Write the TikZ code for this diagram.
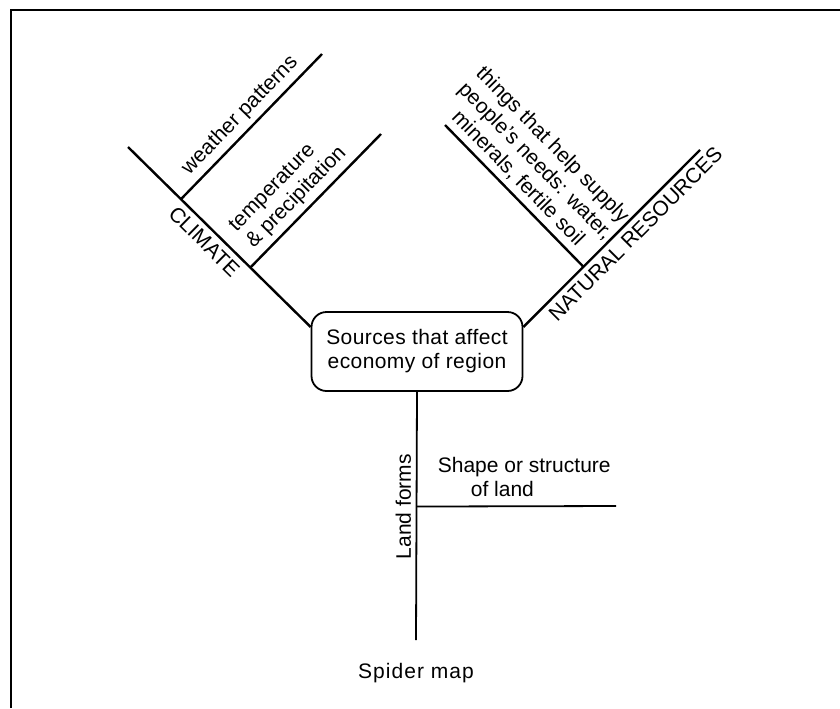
\documentclass[tikz,border=0pt]{standalone}
\usepackage{fontspec}
\setmainfont{Liberation Sans}
\usetikzlibrary{positioning}

\begin{document}
\begin{tikzpicture}[x=0.5pt, y=-0.5pt,
  branch/.style={line width=1.2pt},
  stem/.style={line width=0.9pt},
  lbl/.style={font=\fontsize{10.5}{12}\selectfont, inner sep=2.5pt}]
\useasboundingbox (0,0) rectangle (840,708);
\draw[line width=1pt] (11,708) -- (11,9.5) -- (840,9.5);
% centre box
\node[draw, rounded corners=7.5pt, line width=0.9pt, minimum width=105.5pt, minimum height=39.5pt, align=center, lbl] (src) at (417,351.5) {\addfontfeature{LetterSpace=2}Sources that affect\\\addfontfeature{LetterSpace=2}economy of region};
% free ends
\coordinate (cl) at (128,147);
\coordinate (wp) at (322,54);
\coordinate (tp) at (381,134);
\coordinate (nr) at (700,150);
\coordinate (ts) at (445,125);
\coordinate (lf) at (416,640);
\coordinate (sh) at (616,506);
% climate
\draw[branch] (cl) -- coordinate[pos=0.29] (cw) coordinate[pos=0.67] (ct) (src.167) node[pos=0.47, sloped, below, lbl] {CLIMATE};
\draw[branch] (cw) -- (wp) node[midway, sloped, above, lbl] {weather patterns};
\draw[branch] (ct) -- (tp) node[pos=0.44, sloped, above, align=left, lbl] {temperature\\\& precipitation};
% natural resources
\draw[branch] (src.13) -- coordinate[pos=0.34] (nb) (nr) node[pos=0.58, sloped, below, lbl] {NATURAL RESOURCES};
\draw[branch] (ts) -- (nb) node[pos=0.45, sloped, above, align=center, lbl] {things that help supply\\people's needs: water,\\minerals, fertile soil};
% land forms
\draw[stem] (src.south) -- coordinate[pos=0.462] (lb) (lf);
\node[rotate=90, anchor=south, lbl] (lfl) at (lb) {Land forms};
\draw[stem] (lb) -- (sh) node[pos=0.54, above, align=left, lbl, inner sep=4.5pt] {Shape or structure\\\hspace*{16.5pt}of land};
\node[below=9pt of lf, lbl] (title) {\addfontfeature{LetterSpace=5}Spider map};
\end{tikzpicture}
\end{document}
